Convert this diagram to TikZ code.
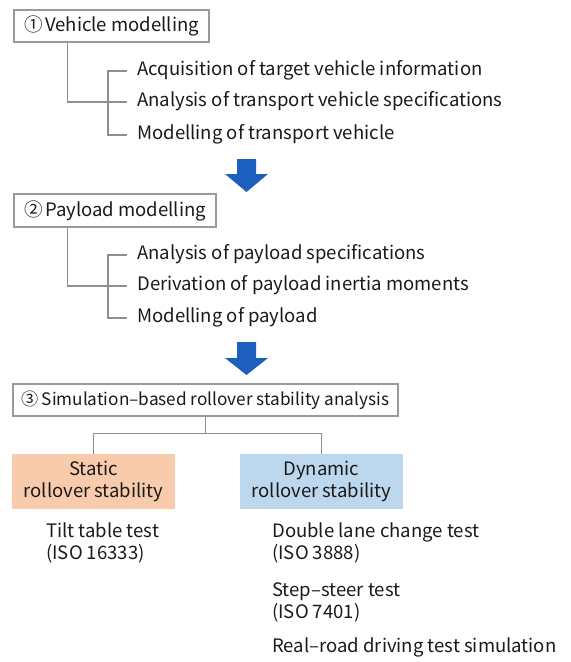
\documentclass[tikz,border=0pt]{standalone}
\usepackage{fontspec}
\setmainfont{Noto Sans CJK KR}
\usetikzlibrary{calc}
\definecolor{linegray}{HTML}{8E8E8E}
\definecolor{boxgray}{HTML}{9A9A9A}
\definecolor{txt}{HTML}{1A1A1A}
\definecolor{staticfill}{HTML}{F8CBAD}
\definecolor{dynfill}{HTML}{BDD7EE}
\definecolor{arrowblue}{HTML}{1C5FBF}
\tikzset{
  base/.style={font=\fontsize{13.9pt}{16.5pt}\selectfont, text=txt},
  headbox/.style={base, draw=boxgray, line width=0.8pt, inner sep=0pt},
  item/.style={base, anchor=west, inner sep=0pt, text height=10pt, text depth=3pt},
  link/.style={draw=linegray, line width=0.8pt},
  catbox/.style={base, inner sep=0pt, minimum width=163*0.75pt, minimum height=55*0.75pt, align=center},
  note/.style={base, anchor=north west, inner sep=0pt, align=left},
  bigarrow/.style={fill=arrowblue}
}
\begin{document}
\begin{tikzpicture}[x=0.75pt,y=-0.75pt]
\useasboundingbox (0,0) rectangle (571,662);
% Step 1
\node[headbox, minimum width=195*0.75pt, minimum height=32*0.75pt] (b1) at (111.5,26) {①\kern2pt Vehicle modelling};
\node[item] (a1) at (137,71) {Acquisition of target vehicle information};
\node[item] (a2) at (137,102) {Analysis of transport vehicle specifications};
\node[item] (a3) at (137,135) {Modelling of transport vehicle};
\draw[link] ($(b1.south west)+(54,0)$) |- ($(a2.west)+(-10,0)$);
\draw[link] ($(a1.west)+(-10,0)$) -- ($(a1.west)+(-29,0)$) |- ($(a3.west)+(-10,0)$);
% arrow 1
\fill[bigarrow] (237,159) -- (256,159) -- (256,174) -- (268,174) -- (246.5,192) -- (225,174) -- (237,174) -- cycle;
% Step 2
\node[headbox, minimum width=202*0.75pt, minimum height=33*0.75pt] (b2) at (115,210.5) {②\kern2pt Payload modelling};
\node[item] (c1) at (137,255) {Analysis of payload specifications};
\node[item] (c2) at (137,286) {Derivation of payload inertia moments};
\node[item] (c3) at (137,318) {Modelling of payload};
\draw[link] ($(b2.south west)+(54,0)$) |- ($(c2.west)+(-10,0)$);
\draw[link] ($(c1.west)+(-10,0)$) -- ($(c1.west)+(-29,0)$) |- ($(c3.west)+(-10,0)$);
% arrow 2
\fill[bigarrow] (237,342) -- (256,342) -- (256,358) -- (268,358) -- (246.5,375) -- (225,358) -- (237,358) -- cycle;
% Step 3
\node[headbox, font=\fontsize{12.9pt}{16pt}\selectfont, minimum width=385*0.75pt, minimum height=32*0.75pt] (b3) at (205.5,400) {③\kern2pt Simulation–based rollover stability analysis};
\node[catbox, fill=staticfill] (st) at (93.5,481.5) {Static\\rollover stability};
\node[catbox, fill=dynfill] (dy) at (321.5,481.5) {Dynamic\\rollover stability};
\draw[link] (b3.south) -- ++(0,17);
\draw[link] (st.north) |- ($(b3.south)+(0,17)$) -| (dy.north);
% notes
\node[note] (n1) at (46,522) {Tilt table test\\(ISO 16333)};
\node[note] (n2) at (272,522) {Double lane change test\\(ISO 3888)};
\node[note] (n3) at (272,582) {Step–steer test\\(ISO 7401)};
\node[note] (n4) at (272,637) {Real–road driving test simulation};
\end{tikzpicture}
\end{document}
